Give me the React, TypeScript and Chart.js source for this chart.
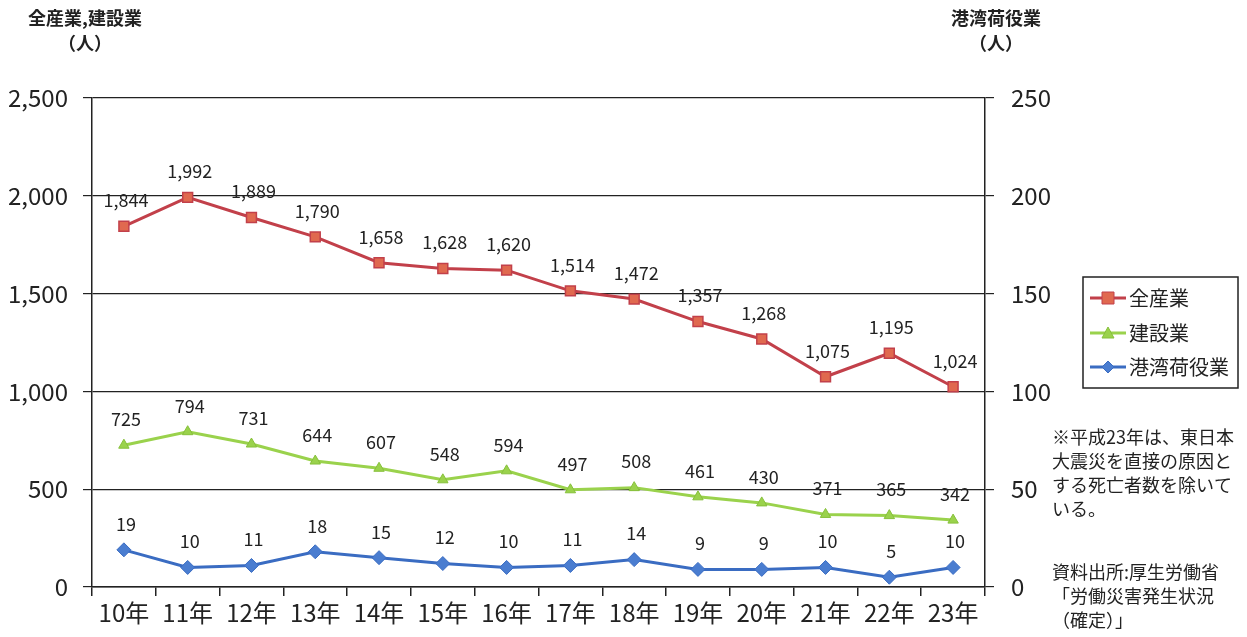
import React, { useEffect, useRef } from "react";
import { Chart, registerables } from "chart.js";

Chart.register(...registerables);

const categories = ["10年", "11年", "12年", "13年", "14年", "15年", "16年", "17年", "18年", "19年", "20年", "21年", "22年", "23年"];
const allIndustry = [1844, 1992, 1889, 1790, 1658, 1628, 1620, 1514, 1472, 1357, 1268, 1075, 1195, 1024];
const construction = [725, 794, 731, 644, 607, 548, 594, 497, 508, 461, 430, 371, 365, 342];
const portCargo = [19, 10, 11, 18, 15, 12, 10, 11, 14, 9, 9, 10, 5, 10];
const leftTicks = [0, 500, 1000, 1500, 2000, 2500];
const rightTicks = [0, 50, 100, 150, 200, 250];
const seriesNames = ["全産業", "建設業", "港湾荷役業"];
const noteLines = ["※平成23年は、東日本", "大震災を直接の原因と", "する死亡者数を除いて", "いる。"];
const sourceLines = ["資料出所:厚生労働省", "「労働災害発生状況", "（確定）」"];

const FONT = "'Noto Sans CJK JP', 'Noto Sans', sans-serif";

const overlay = {
  id: "overlay",
  afterDatasetsDraw(chart: any) {
    const ctx = chart.ctx;
    ctx.save();
    // data labels
    ctx.font = `18px ${FONT}`;
    ctx.fillStyle = "#222";
    ctx.textAlign = "center";
    ctx.textBaseline = "middle";
    chart.data.datasets.forEach((ds: any, di: number) => {
      const meta = chart.getDatasetMeta(di);
      meta.data.forEach((pt: any, i: number) => {
        const v = ds.data[i];
        ctx.fillText(v.toLocaleString("en-US"), pt.x + 2, pt.y - 26);
      });
    });
    // axis titles
    ctx.font = `bold 18px ${FONT}`;
    ctx.fillStyle = "#222";
    ctx.fillText("全産業,建設業", 85, 18);
    ctx.fillText("（人）", 85, 43);
    ctx.fillText("港湾荷役業", 996, 18);
    ctx.fillText("（人）", 996, 43);
    // legend
    ctx.strokeStyle = "#222";
    ctx.lineWidth = 1.5;
    ctx.strokeRect(1083, 277, 155, 111);
    const ys = [298, 333, 367];
    chart.data.datasets.forEach((ds: any, di: number) => {
      const y = ys[di];
      ctx.strokeStyle = ds.borderColor;
      ctx.lineWidth = 3;
      ctx.beginPath();
      ctx.moveTo(1090, y);
      ctx.lineTo(1126, y);
      ctx.stroke();
      ctx.fillStyle = ds.pointBackgroundColor;
      ctx.strokeStyle = ds.pointBorderColor;
      ctx.lineWidth = 1;
      const cx = 1108;
      ctx.beginPath();
      if (ds.pointStyle === "rect") {
        ctx.rect(cx - 6, y - 6, 12, 12);
      } else if (ds.pointStyle === "triangle") {
        ctx.moveTo(cx, y - 6);
        ctx.lineTo(cx + 6, y + 5);
        ctx.lineTo(cx - 6, y + 5);
        ctx.closePath();
      } else {
        ctx.moveTo(cx, y - 6);
        ctx.lineTo(cx + 6, y);
        ctx.lineTo(cx, y + 6);
        ctx.lineTo(cx - 6, y);
        ctx.closePath();
      }
      ctx.fill();
      ctx.stroke();
      ctx.fillStyle = "#222";
      ctx.textAlign = "left";
      ctx.font = `20px ${FONT}`;
      ctx.fillText(seriesNames[di], 1129, y);
    });
    // notes
    ctx.font = `18px ${FONT}`;
    ctx.fillStyle = "#222";
    ctx.textAlign = "left";
    noteLines.forEach((t, i) => ctx.fillText(t, 1052, 437 + i * 24));
    sourceLines.forEach((t, i) => ctx.fillText(t, 1052, 572 + i * 24));
    ctx.restore();
  },
};

export default function App() {
  const ref = useRef<HTMLCanvasElement | null>(null);
  useEffect(() => {
    if (!ref.current) return;
    const chart = new Chart(ref.current, {
      type: "line",
      data: {
        labels: categories,
        datasets: [
          {
            label: seriesNames[0],
            data: allIndustry,
            yAxisID: "y",
            borderColor: "#c2404a",
            backgroundColor: "#c2404a",
            pointBackgroundColor: "#e0694f",
            pointBorderColor: "#c2404a",
            pointStyle: "rect",
            pointRadius: 7,
            pointBorderWidth: 1.5,
            borderWidth: 3,
          },
          {
            label: seriesNames[1],
            data: construction,
            yAxisID: "y",
            borderColor: "#9ad24c",
            backgroundColor: "#9ad24c",
            pointBackgroundColor: "#9ad24c",
            pointBorderColor: "#86c03a",
            pointStyle: "triangle",
            pointRadius: 6,
            pointBorderWidth: 1,
            borderWidth: 3,
          },
          {
            label: seriesNames[2],
            data: portCargo,
            yAxisID: "y1",
            borderColor: "#3a6cc2",
            backgroundColor: "#3a6cc2",
            pointBackgroundColor: "#4a7dd0",
            pointBorderColor: "#3a6cc2",
            pointStyle: "rectRot",
            pointRadius: 7,
            pointBorderWidth: 1,
            borderWidth: 3,
          },
        ],
      },
      options: {
        responsive: false,
        animation: false,
        layout: { padding: { top: 98, left: 0, right: 0, bottom: 0 } },
        plugins: { legend: { display: false }, tooltip: { enabled: false } },
        scales: {
          x: {
            offset: true,
            grid: { offset: true, drawOnChartArea: false, drawTicks: true, tickLength: 9, color: "#222", lineWidth: 1.5 },
            border: { color: "#222", width: 1.5 },
            ticks: { color: "#222", font: { family: FONT, size: 24 }, padding: 2 },
            afterFit: (s: any) => { s.height = 50; },
          },
          y: {
            position: "left",
            min: 0,
            max: 2500,
            afterBuildTicks: (s: any) => { s.ticks = leftTicks.map((v) => ({ value: v })); },
            grid: { color: "#222", lineWidth: 1.2, tickLength: 9 },
            border: { color: "#222", width: 1.5 },
            ticks: {
              color: "#222",
              font: { family: FONT, size: 24 },
              padding: 15,
              callback: (v: any) => Number(v).toLocaleString("en-US"),
            },
            afterFit: (s: any) => { s.width = 92; },
          },
          y1: {
            position: "right",
            min: 0,
            max: 250,
            afterBuildTicks: (s: any) => { s.ticks = rightTicks.map((v) => ({ value: v })); },
            grid: { drawOnChartArea: false, color: "#222", lineWidth: 1.2, tickLength: 9 },
            border: { color: "#222", width: 1.5 },
            ticks: { color: "#222", font: { family: FONT, size: 24 }, padding: 17 },
            afterFit: (s: any) => { s.width = 262; },
          },
        },
      },
      plugins: [overlay],
    });
    return () => chart.destroy();
  }, []);
  return (
    <div style={{ position: "absolute", left: 0, top: 0, width: 1247, height: 637, background: "#fff" }}>
      <canvas ref={ref} width={1247} height={637} style={{ display: "block" }} />
    </div>
  );
}
